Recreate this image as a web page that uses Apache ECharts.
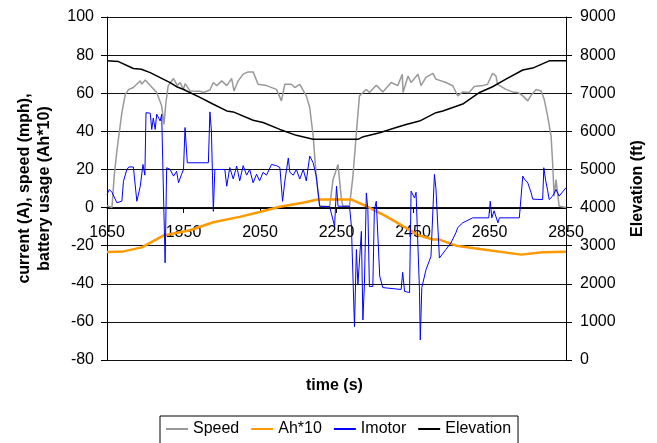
<!DOCTYPE html>
<html>
<head>
<meta charset="utf-8">
<script src="https://cdn.jsdelivr.net/npm/echarts@6/dist/echarts.min.js"></script>
<style>
  html, body { margin: 0; padding: 0; background: #fff; }
  #chart { width: 657px; height: 443px; }
</style>
</head>
<body>
<div id="chart"></div>
<script>
// [time (s), value]
const speed = [
  [1650, 1], [1663, 0], [1669, 17], [1676, 30], [1689, 50], [1698, 59.5], [1707, 62], [1719, 63],
  [1737, 66.5], [1741, 64.7], [1750, 67], [1763, 64], [1780, 60.4], [1793, 53.3], [1799, 43.7],
  [1804, 55], [1810, 64], [1824, 67.7], [1834, 64], [1841, 65.6], [1850, 62], [1854, 65], [1867, 61.2],
  [1893, 61], [1902, 60.4], [1919, 61.7], [1928, 65.6], [1937, 64], [1950, 66.5], [1963, 64],
  [1976, 67.7], [1982, 61.2], [1993, 66.5], [2006, 70], [2019, 71.2], [2032, 71.2], [2045, 64.7],
  [2067, 64], [2093, 62], [2106, 56], [2115, 64.7], [2132, 64.7], [2141, 63], [2154, 64.7],
  [2171, 58.6], [2180, 52.5], [2189, 37.5], [2197, 16.5], [2206, 0.7], [2232, 0.5], [2241, 14.7],
  [2254, 22.6], [2263, 4], [2267, 0.7], [2284, 0.7], [2293, 16.5], [2302, 39.3], [2310, 58.6],
  [2319, 60.4], [2328, 62], [2336, 60.4], [2354, 64.2], [2371, 60.7], [2393, 65.6], [2410, 64],
  [2422, 70], [2424, 60.4], [2437, 69], [2445, 65.6], [2463, 70], [2471, 64], [2484, 68.3],
  [2502, 70.4], [2510, 67.4], [2536, 65.6], [2554, 63.9], [2567, 58.6], [2580, 60.7], [2597, 60.4],
  [2610, 63.5], [2632, 64], [2645, 64.7], [2658, 70.5], [2667, 69], [2671, 64.7], [2693, 62],
  [2710, 60.7], [2724, 60.4], [2737, 58.6], [2750, 56], [2759, 59], [2772, 62], [2785, 61.2],
  [2793, 56.8], [2802, 48], [2811, 37.5], [2815, 23.5], [2819, 6], [2824, 14.7], [2832, 0.7], [2850, 0]
];

const ah10 = [
  [1650, -23.3], [1693, -23], [1741, -20.9], [1797, -14.7], [1867, -11.9], [1928, -7.7],
  [1997, -4.9], [2049, -2.3], [2102, 0.4], [2162, 2.5], [2201, 4.2], [2289, 4.2], [2328, 0.7],
  [2380, -4.6], [2432, -10.7], [2467, -14.7], [2502, -16.8], [2519, -16.8], [2563, -20],
  [2624, -21.8], [2733, -24.7], [2789, -23.5], [2850, -23.2]
];

const imotor = [
  [1650, 6.8], [1656, 9.5], [1663, 8], [1676, 2.5], [1689, 3.4], [1693, 13.8], [1702, 20], [1707, 21.3],
  [1719, 21.3], [1728, 3.3], [1737, 11.2], [1744, 22.6], [1749, 17], [1752, 49.8], [1763, 49.5],
  [1767, 41], [1771, 47], [1776, 41], [1780, 49], [1789, 45.4], [1793, 49], [1797, 13], [1802, -29],
  [1806, 20.9], [1815, 20], [1824, 16.5], [1832, 19], [1837, 13], [1845, 17.5], [1850, 20], [1854, 42],
  [1860, 23.5], [1915, 23.5], [1919, 50.2], [1923, 40], [1928, -2], [1932, 20], [1958, 20],
  [1963, 11.2], [1971, 21], [1980, 15], [1989, 21.8], [1997, 14], [2006, 22], [2015, 17], [2023, 20],
  [2032, 13], [2041, 17.5], [2049, 14], [2058, 18.5], [2067, 17], [2080, 22.6], [2093, 22], [2102, 21],
  [2109, 3.3], [2115, 14], [2124, 26], [2128, 18.5], [2137, 17], [2145, 20], [2154, 15], [2163, 20],
  [2171, 14], [2180, 27], [2189, 23.5], [2197, 16.5], [2206, 0.7], [2232, 0.5], [2245, -9.8],
  [2250, 11.2], [2254, 0.7], [2284, 0.7], [2289, -9.8], [2297, -62.5], [2302, -22], [2306, -40.5],
  [2315, -12.5], [2319, -59], [2323, -40], [2328, 7.7], [2332, -1], [2336, -41.4], [2345, -41.4],
  [2349, -1], [2354, 3.3], [2363, -36], [2371, -42], [2419, -43], [2423, -34], [2428, -44],
  [2441, -44.6], [2445, 8.6], [2454, 5], [2458, 8], [2467, -44], [2469, -69.5], [2473, -42],
  [2484, -32.6], [2497, -25.6], [2506, 17.4], [2510, 10], [2519, -26.5], [2536, -22], [2549, -18.6],
  [2562, -13.3], [2567, -10.5], [2580, -8], [2606, -5.4], [2648, -5.4], [2652, 3.3], [2656, -5.4],
  [2662, -1.7], [2672, -8], [2676, -5.4], [2728, -5.4], [2737, 16.5], [2741, 15], [2750, 13],
  [2759, 7.7], [2763, 4.4], [2789, 4.2], [2792, 20.9], [2797, 14], [2802, 9], [2806, 4.2],
  [2815, 6], [2824, 9.5], [2832, 6], [2850, 10.4]
];

const elevation = [
  [1650, 7850], [1680, 7830], [1719, 7650], [1740, 7630], [1763, 7540], [1815, 7280], [1832, 7170],
  [1849, 7105], [1893, 6890], [1928, 6710], [1963, 6535], [1980, 6510], [2032, 6290], [2058, 6230],
  [2102, 6050], [2145, 5895], [2189, 5790], [2306, 5790], [2320, 5860], [2363, 5965], [2406, 6100],
  [2432, 6180], [2467, 6270], [2510, 6490], [2528, 6535], [2580, 6715], [2624, 7020], [2658, 7170],
  [2693, 7370], [2737, 7610], [2763, 7660], [2806, 7850], [2850, 7850]
];

const seriesNames = ['Speed', 'Ah*10', 'Imotor', 'Elevation'];

const font = 'Liberation Sans, Arial, sans-serif';
const plain = v => String(v);
const chart = echarts.init(document.getElementById('chart'));

chart.setOption({
  animation: false,
  textStyle: { fontFamily: font },
  grid: { left: 107, right: 91, top: 17, bottom: 83, containLabel: false },
  legend: {
    data: seriesNames,
    left: 160,
    top: 416,
    icon: 'rect',
    itemWidth: 22,
    itemHeight: 2,
    itemGap: 12,
    padding: [5, 7, 8, 6],
    borderColor: '#000',
    borderWidth: 1,
    textStyle: { fontSize: 16, color: '#000', fontFamily: font }
  },
  graphic: [{
    type: 'text',
    left: 306,
    top: 378,
    style: { text: 'time (s)', font: 'bold 16px ' + font, fill: '#000' }
  }],
  xAxis: {
    type: 'value',
    min: 1650,
    max: 2850,
    interval: 200,
    position: 'bottom',
    offset: -152,
    axisLine: { onZero: false, lineStyle: { color: '#000', width: 1 } },
    axisTick: { show: true, length: 5, lineStyle: { color: '#000' } },
    axisLabel: { fontSize: 16, color: '#000', margin: 17, formatter: plain },
    splitLine: { show: false }
  },
  yAxis: [{
    type: 'value',
    min: -80,
    max: 100,
    interval: 20,
    name: 'current (A), speed (mph),\nbattery usage (Ah*10)',
    nameLocation: 'middle',
    nameRotate: 90,
    nameGap: 52,
    nameTextStyle: { fontSize: 16, fontWeight: 'bold', color: '#000', lineHeight: 20 },
    axisLine: { show: true, onZero: false, lineStyle: { color: '#000' } },
    axisTick: { show: true, length: 6, lineStyle: { color: '#000' } },
    axisLabel: { fontSize: 16, color: '#000', margin: 13, formatter: plain },
    splitLine: { show: true, lineStyle: { color: '#111', width: 1 } }
  }, {
    type: 'value',
    min: 0,
    max: 9000,
    interval: 1000,
    position: 'right',
    name: 'Elevation (ft)',
    nameLocation: 'middle',
    nameRotate: 90,
    nameGap: 64,
    nameTextStyle: { fontSize: 16, fontWeight: 'bold', color: '#000' },
    axisLine: { show: true, onZero: false, lineStyle: { color: '#000' } },
    axisTick: { show: true, length: 6, lineStyle: { color: '#000' } },
    axisLabel: { fontSize: 16, color: '#000', margin: 14, formatter: plain },
    splitLine: { show: false }
  }],
  series: [{
    name: 'Speed',
    type: 'line',
    data: speed,
    showSymbol: false,
    symbol: 'none',
    color: '#999999',
    lineStyle: { width: 1.5 }
  }, {
    name: 'Ah*10',
    type: 'line',
    data: ah10,
    showSymbol: false,
    symbol: 'none',
    color: '#FF9900',
    lineStyle: { width: 2.5 }
  }, {
    name: 'Imotor',
    type: 'line',
    data: imotor,
    showSymbol: false,
    symbol: 'none',
    color: '#0000FF',
    lineStyle: { width: 1 }
  }, {
    name: 'Elevation',
    type: 'line',
    yAxisIndex: 1,
    data: elevation,
    showSymbol: false,
    symbol: 'none',
    color: '#000000',
    lineStyle: { width: 1.5 }
  }]
});
</script>
</body>
</html>
